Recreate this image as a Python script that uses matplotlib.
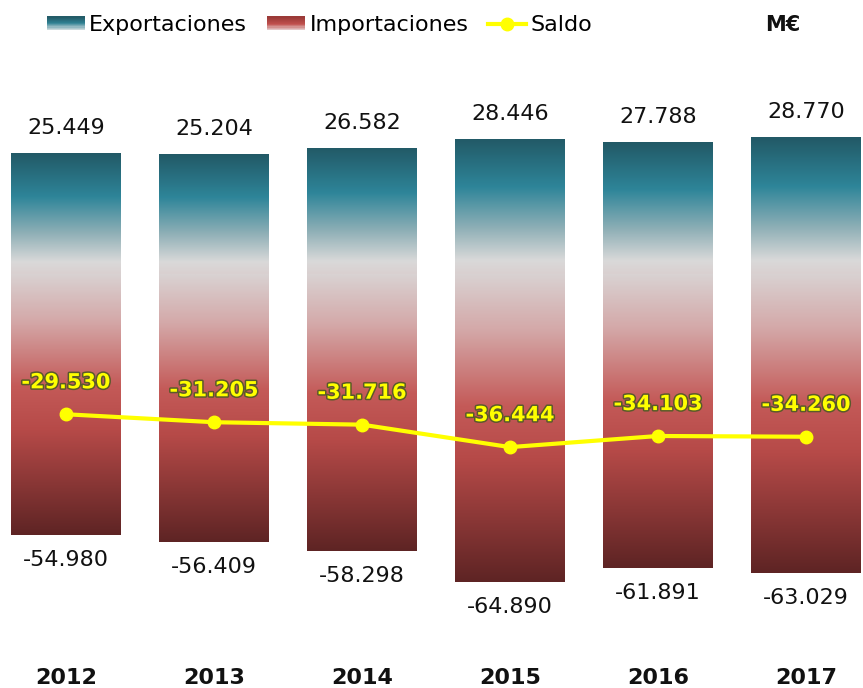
import numpy as np
import matplotlib
matplotlib.use("Agg")
import matplotlib.pyplot as plt
from matplotlib.colors import LinearSegmentedColormap
from matplotlib.legend_handler import HandlerBase
from matplotlib.patches import Rectangle
from matplotlib.lines import Line2D
import matplotlib.patheffects as pe
import matplotlib.transforms as mtransforms

years = ["2012", "2013", "2014", "2015", "2016", "2017"]
exportaciones = [25449, 25204, 26582, 28446, 27788, 28770]
importaciones = [-54980, -56409, -58298, -64890, -61891, -63029]
saldo = [-29530, -31205, -31716, -36444, -34103, -34260]

cmap_exp = LinearSegmentedColormap.from_list(
    "exp", [(0.0, "#225966"), (0.36, "#2E8599"), (0.66, "#8EAFB6"),
            (0.9, "#D9D9D9"), (1.0, "#DAD0D0")])
cmap_imp = LinearSegmentedColormap.from_list(
    "imp", [(0.0, "#D9D2D2"), (0.18, "#D4A9A9"), (0.43, "#C45A58"),
            (0.6, "#B64A48"), (1.0, "#5E2424")])


def fmt(v):
    return f"{v:,}".replace(",", ".")


W, H = 863, 688
fig = plt.figure(figsize=(W / 100, H / 100), dpi=100)
ax = fig.add_axes([0, 0, 1, 1])
ax.set_axis_off()

x = np.arange(len(years))
width = 0.743
grad = np.linspace(0, 1, 256).reshape(-1, 1)

bars_e = ax.bar(x, exportaciones, width, color="none", edgecolor="none")
bars_i = ax.bar(x, importaciones, width, color="none", edgecolor="none")
for i in range(len(years)):
    for bar, cm in ((bars_e[i], cmap_exp), (bars_i[i], cmap_imp)):
        x0 = bar.get_x()
        y0 = bar.get_y()
        h = bar.get_height()
        ylo, yhi = min(y0, y0 + h), max(y0, y0 + h)
        im = ax.imshow(grad, extent=[x0, x0 + bar.get_width(), ylo, yhi],
                       aspect="auto", cmap=cm, origin="upper",
                       interpolation="bilinear", zorder=1)
        im.set_clip_path(bar)

ax.plot(x, saldo, color="#FFFF00", lw=3, marker="o", markersize=9,
        zorder=3, solid_capstyle="round")

for i in range(len(years)):
    ax.annotate(fmt(exportaciones[i]), (x[i], exportaciones[i]),
                xytext=(0, 18), textcoords="offset points", ha="center",
                va="center", fontsize=16, color="#111111")
    ax.annotate(fmt(importaciones[i]), (x[i], importaciones[i]),
                xytext=(0, -18), textcoords="offset points", ha="center",
                va="center", fontsize=16, color="#111111")
    ax.annotate(fmt(saldo[i]), (x[i], saldo[i]),
                xytext=(0, 23), textcoords="offset points", ha="center",
                va="center", fontsize=15, fontweight="bold", color="#FFFF00",
                zorder=4,
                path_effects=[pe.withStroke(linewidth=2.2, foreground="#5a5a2a")])

trans = mtransforms.blended_transform_factory(ax.transData, ax.transAxes)
for i, yr in enumerate(years):
    ax.text(x[i], 1 - 678 / H, yr, transform=trans, ha="center",
            va="center", fontsize=16, fontweight="bold", color="#111111")

ax.set_xlim(-66 / 148, (W - 66) / 148)
ppu = 4.75 / 1000.0
ax.set_ylim(-(H - 274) / ppu, 274 / ppu)


class GradHandler(HandlerBase):
    def __init__(self, cmap):
        super().__init__()
        self.cmap = cmap

    def create_artists(self, legend, orig_handle, xdescent, ydescent,
                       width, height, fontsize, trans):
        n = 12
        arts = []
        for k in range(n):
            c = self.cmap(k / (n - 1))
            r = Rectangle((-xdescent, -ydescent + height * (1 - (k + 1) / n)),
                          width, height / n, facecolor=c, edgecolor="none",
                          transform=trans)
            arts.append(r)
        return arts


leg_cmap_exp = LinearSegmentedColormap.from_list(
    "le", [(0, "#235C68"), (0.5, "#2E8092"), (1, "#C9D8DB")])
leg_cmap_imp = LinearSegmentedColormap.from_list(
    "li", [(0, "#9B3A38"), (0.6, "#C0504D"), (1, "#E3C6C6")])

h_exp = Rectangle((0, 0), 1, 1)
h_imp = Rectangle((0, 0), 1, 1)
h_sal = Line2D([], [], color="#FFFF00", lw=3, marker="o", markersize=9)

leg = fig.legend([h_exp, h_imp, h_sal],
                 ["Exportaciones", "Importaciones", "Saldo"],
                 handler_map={h_exp: GradHandler(leg_cmap_exp),
                              h_imp: GradHandler(leg_cmap_imp)},
                 loc="center left", bbox_to_anchor=(47 / W, 1 - 25 / H),
                 ncol=3, frameon=False, fontsize=16, handlelength=1.7,
                 handleheight=0.55, handletextpad=0.2, columnspacing=0.9,
                 borderpad=0, borderaxespad=0)

fig.text(783 / W, 1 - 25 / H, "M€", ha="center", va="center",
         fontsize=15, fontweight="bold", color="#111111")

fig.savefig("out.png", dpi=100)
